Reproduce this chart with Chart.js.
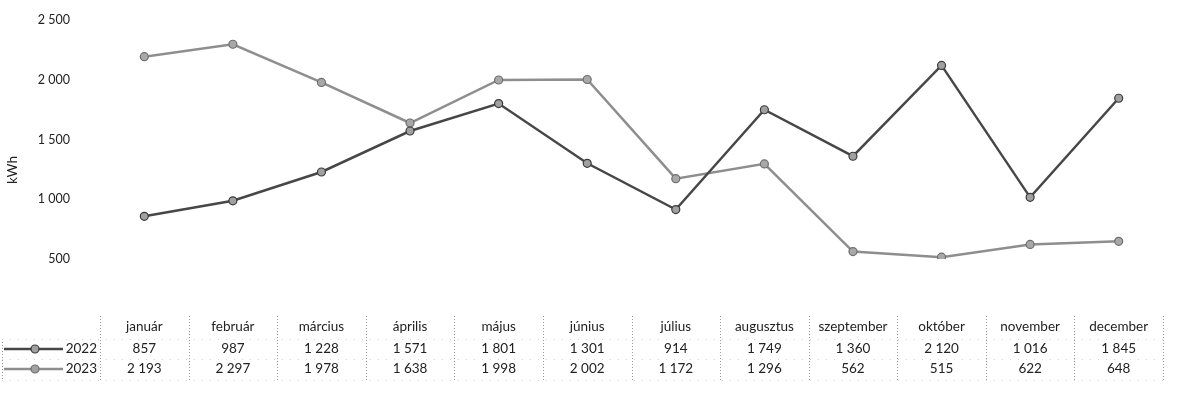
<!DOCTYPE html>
<html>
<head>
<meta charset="utf-8">
<script src="https://cdn.jsdelivr.net/npm/chart.js@4.4.1/dist/chart.umd.min.js"></script>
<style>
  html, body { margin: 0; padding: 0; background: #fff; }
  #wrap { width: 1185px; height: 397px; position: relative; }
</style>
</head>
<body>
<div id="wrap"><canvas id="c"></canvas></div>
<script>
const months = ['január', 'február', 'március', 'április', 'május', 'június', 'július', 'augusztus', 'szeptember', 'október', 'november', 'december'];
const seriesNames = ['2022', '2023'];
const values2022 = [857, 987, 1228, 1571, 1801, 1301, 914, 1749, 1360, 2120, 1016, 1845];
const values2023 = [2193, 2297, 1978, 1638, 1998, 2002, 1172, 1296, 562, 515, 622, 648];
const yTicks = [500, 1000, 1500, 2000, 2500];
const yTitle = 'kWh';

const FONT = 'Lato, "Open Sans", sans-serif';
const col2022 = '#474747';
const col2023 = '#8e8e8e';

function fmt(v) {
  return String(Math.round(v)).replace(/\B(?=(\d{3})+(?!\d))/g, ' ');
}

const tablePlugin = {
  id: 'dataTable',
  afterDraw(chart) {
    const ctx = chart.ctx;
    const x = chart.scales.x;
    const area = chart.chartArea;
    const n = months.length;
    const colW = (area.right - area.left) / n;
    const rowY = [327, 349, 369];
    ctx.save();
    // y title
    ctx.save();
    ctx.translate(13, 170);
    ctx.rotate(-Math.PI / 2);
    ctx.font = '13.5px ' + FONT;
    ctx.fillStyle = '#222';
    ctx.textAlign = 'center';
    ctx.textBaseline = 'middle';
    ctx.fillText(yTitle, 0, 0);
    ctx.restore();

    // dotted grid of table
    ctx.strokeStyle = '#9a9a9a';
    ctx.lineWidth = 1;
    ctx.setLineDash([1, 2]);
    for (let i = 0; i <= n; i++) {
      const bx = Math.round(area.left + i * colW) + 0.5;
      ctx.beginPath();
      ctx.moveTo(bx, 316);
      ctx.lineTo(bx, 381);
      ctx.stroke();
    }
    ctx.beginPath();
    ctx.moveTo(2.5, 339);
    ctx.lineTo(2.5, 381);
    ctx.stroke();
    ctx.strokeStyle = '#d6d6d6';
    ctx.setLineDash([1, 7]);
    [339, 359, 380].forEach(yy => {
      ctx.beginPath();
      ctx.moveTo(2, yy + 0.5);
      ctx.lineTo(area.right, yy + 0.5);
      ctx.stroke();
    });
    ctx.setLineDash([]);

    // text
    ctx.font = '13.5px ' + FONT;
    ctx.fillStyle = '#222';
    ctx.textAlign = 'center';
    ctx.textBaseline = 'middle';
    for (let i = 0; i < n; i++) {
      const cx = x.getPixelForValue(i);
      ctx.fillText(months[i], cx, rowY[0]);
      ctx.fillText(fmt(values2022[i]), cx, rowY[1]);
      ctx.fillText(fmt(values2023[i]), cx, rowY[2]);
    }
    // legend keys
    const keys = [[seriesNames[0], col2022, '#3a3a3a', rowY[1]], [seriesNames[1], col2023, '#6e6e6e', rowY[2]]];
    keys.forEach(([name, c, bc, yy]) => {
      ctx.strokeStyle = c;
      ctx.lineWidth = 2.5;
      ctx.beginPath();
      ctx.moveTo(4, yy);
      ctx.lineTo(63, yy);
      ctx.stroke();
      ctx.beginPath();
      ctx.arc(35, yy, 4, 0, Math.PI * 2);
      ctx.fillStyle = '#a0a0a0';
      ctx.fill();
      ctx.lineWidth = 1.2;
      ctx.strokeStyle = bc;
      ctx.stroke();
      ctx.fillStyle = '#222';
      ctx.textAlign = 'right';
      ctx.fillText(name, 97, yy);
      ctx.textAlign = 'center';
    });
    ctx.restore();
  }
};

new Chart(document.getElementById('c'), {
  type: 'line',
  data: {
    labels: months,
    datasets: [
      {
        label: seriesNames[0],
        data: values2022,
        borderColor: col2022,
        borderWidth: 2.5,
        pointRadius: 4,
        pointBackgroundColor: '#a0a0a0',
        pointBorderColor: '#3a3a3a',
        pointBorderWidth: 1.2,
        tension: 0
      },
      {
        label: seriesNames[1],
        data: values2023,
        borderColor: col2023,
        borderWidth: 2.5,
        pointRadius: 4,
        pointBackgroundColor: '#a8a8a8',
        pointBorderColor: '#6e6e6e',
        pointBorderWidth: 1.2,
        tension: 0
      }
    ]
  },
  options: {
    responsive: true,
    maintainAspectRatio: false,
    animation: false,
    layout: { padding: { top: 20, right: 22, bottom: 0, left: 0 } },
    plugins: { legend: { display: false }, tooltip: { enabled: false } },
    scales: {
      x: {
        offset: true,
        grid: { display: false, drawTicks: false },
        border: { display: false },
        ticks: { display: false },
        afterFit(s) { s.height = 138; }
      },
      y: {
        min: yTicks[0],
        max: yTicks[yTicks.length - 1],
        afterBuildTicks(s) { s.ticks = yTicks.map(v => ({ value: v })); },
        grid: { display: false, drawTicks: false },
        border: { display: false },
        ticks: {
          padding: 30,
          color: '#222',
          font: { family: FONT, size: 12.5 },
          callback: v => fmt(v)
        },
        afterFit(s) { s.width = 100; s.paddingTop = 0; s.paddingBottom = 0; }
      }
    }
  },
  plugins: [tablePlugin]
});
</script>
</body>
</html>
